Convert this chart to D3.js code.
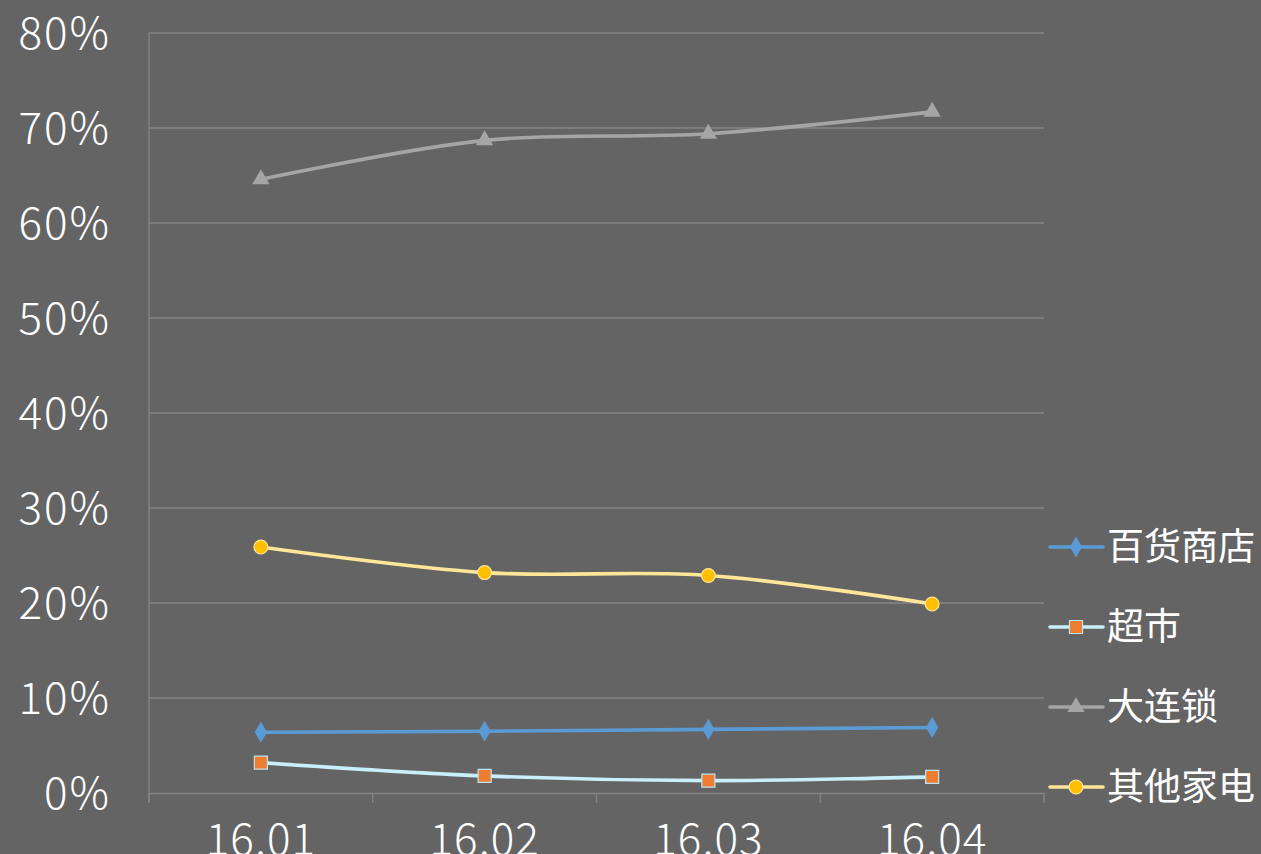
<!DOCTYPE html>
<html><head><meta charset="utf-8">
<script src="https://cdn.jsdelivr.net/npm/d3@7"></script>
<style>
html,body{margin:0;padding:0;background:#646464;overflow:hidden;}
svg{display:block;}
text{font-family:"Noto Sans CJK JP","Noto Sans",sans-serif;fill:#ffffff;}
</style></head>
<body>
<script>
const categories = ["16.01","16.02","16.03","16.04"];
const seriesNames = ["百货商店","超市","大连锁","其他家电"];
const dept = [6.4, 6.5, 6.7, 6.9];
const supermarket = [3.2, 1.8, 1.3, 1.7];
const chain = [64.6, 68.7, 69.4, 71.7];
const others = [25.9, 23.2, 22.9, 19.9];
const yTicks = [0,10,20,30,40,50,60,70,80];

const W = 1261, H = 854;
const svg = d3.select("body").append("svg").attr("width", W).attr("height", H);
svg.append("rect").attr("width", W).attr("height", H).attr("fill", "#646464");

const pL = 149, pR = 1044, pT = 33, pB = 793;
const x = d3.scaleBand().domain(categories).range([pL, pR]);
const y = d3.scaleLinear().domain([0, 80]).range([pB, pT]);

// gridlines
svg.append("g").selectAll("line").data(yTicks.filter(d => d > 0)).join("line")
  .attr("x1", pL).attr("x2", pR)
  .attr("y1", d => y(d)).attr("y2", d => y(d))
  .attr("stroke", "#858585").attr("stroke-width", 1.3);

// x axis
const xAxis = svg.append("g").attr("transform", `translate(0,${pB})`)
  .call(d3.axisBottom(x).tickSize(0).tickPadding(0));
xAxis.select(".domain").attr("stroke", "#858585").attr("stroke-width", 1.3);
xAxis.selectAll("text").attr("y", 62).attr("dy", 0)
  .style("font-size", "44px").style("font-weight", 300).style("letter-spacing", "1px").attr("fill", "#fff");
// category boundary ticks
svg.append("g").selectAll("line").data(categories.concat(["end"])).join("line")
  .attr("x1", (d, i) => i < categories.length ? x(d) : pR)
  .attr("x2", (d, i) => i < categories.length ? x(d) : pR)
  .attr("y1", pB).attr("y2", pB + 10)
  .attr("stroke", "#858585").attr("stroke-width", 1.3);

// y axis
const yAxis = svg.append("g").attr("transform", `translate(${pL},0)`)
  .call(d3.axisLeft(y).tickValues(yTicks).tickSize(0).tickPadding(38).tickFormat(d => d + "%"));
yAxis.select(".domain").remove();
svg.append("line").attr("x1", pL).attr("x2", pL).attr("y1", pT).attr("y2", pB + 10)
  .attr("stroke", "#858585").attr("stroke-width", 1.3);
yAxis.selectAll("text").style("font-size", "44px").style("font-weight", 300)
  .style("letter-spacing", "2px")
  .attr("fill", "#fff").attr("dy", "0.36em");

const series = [
  {name: seriesNames[0], values: dept, line: "#5B9BD5", fill: "#5B9BD5", stroke: "none", sym: d3.symbolDiamond, size: 130},
  {name: seriesNames[1], values: supermarket, line: "#C9EEFC", fill: "#ED7D31", stroke: "#BDE3F2", sym: d3.symbolSquare, size: 170},
  {name: seriesNames[2], values: chain, line: "#A5A5A5", fill: "#A5A5A5", stroke: "none", sym: d3.symbolTriangle, size: 130},
  {name: seriesNames[3], values: others, line: "#FFE699", fill: "#FFC000", stroke: "#FFE699", sym: d3.symbolCircle, size: 150}
];

const cx = c => x(c) + x.bandwidth() / 2;
const lineGen = d3.line().x((d, i) => cx(categories[i])).y(d => y(d)).curve(d3.curveCatmullRom.alpha(0.5));

series.forEach(s => {
  svg.append("path").attr("d", lineGen(s.values)).attr("fill", "none")
    .attr("stroke", s.line).attr("stroke-width", 3.6).attr("stroke-linecap", "round");
  svg.append("g").selectAll("path").data(s.values).join("path")
    .attr("transform", (d, i) => `translate(${cx(categories[i])},${y(d)})`)
    .attr("d", d3.symbol().type(s.sym).size(s.size))
    .attr("fill", s.fill).attr("stroke", s.stroke).attr("stroke-width", 1.2);
});

// legend
const legendY = [547, 627, 707, 787];
const lg = svg.append("g");
series.forEach((s, i) => {
  const g = lg.append("g").attr("transform", `translate(0,${legendY[i]})`);
  g.append("line").attr("x1", 1050).attr("x2", 1103).attr("y1", 0).attr("y2", 0)
    .attr("stroke", s.line).attr("stroke-width", 3.6).attr("stroke-linecap", "round");
  g.append("path").attr("transform", "translate(1076,0)")
    .attr("d", d3.symbol().type(s.sym).size(s.size))
    .attr("fill", s.fill).attr("stroke", s.stroke).attr("stroke-width", 1.2);
  g.append("text").attr("x", 1107).attr("y", 0).attr("dy", "0.36em")
    .style("font-size", "37px").text(s.name);
});
</script>
</body></html>
